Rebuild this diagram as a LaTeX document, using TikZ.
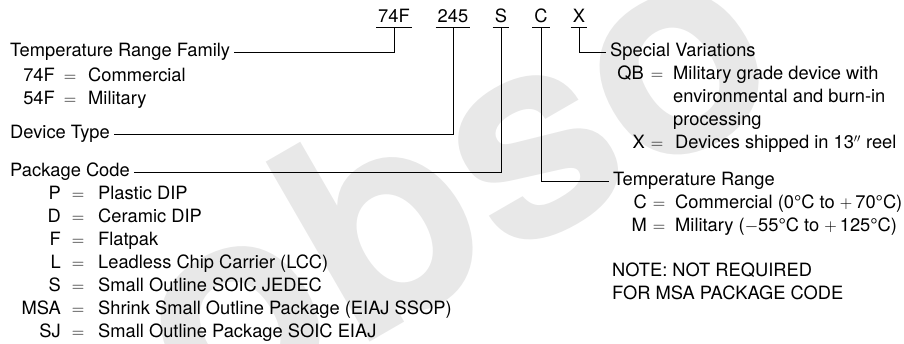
\documentclass[tikz,border=0pt]{standalone}
\usepackage{fontspec}
\setmainfont{TeX Gyre Heros}

\begin{document}
\begin{tikzpicture}[x=1pt, y=-1pt,
    every node/.style={font=\fontsize{18.3}{22}\selectfont},
    lbl/.style={anchor=west, inner xsep=4pt, inner ysep=0pt, text height=1.4ex, text depth=0pt},
    code/.style={anchor=base, inner xsep=2pt, inner ysep=4pt, text depth=0pt},
    key/.style={anchor=east, inner sep=0pt, text height=1.4ex, text depth=0pt},
    eq/.style={inner sep=0pt, text height=1.4ex, text depth=0pt},
    desc/.style={anchor=west, inner sep=0pt, text height=1.4ex, text depth=0pt},
    wire/.style={line width=1pt}]

    \useasboundingbox (0,0) rectangle (904,344);

    % watermark
    \node[rotate=30, text=black!9, font=\fontsize{285}{285}\selectfont\bfseries] (mark) at (448,178) {obso};

    % part number
    \foreach \c/\x in {74F/394, 245/453, S/501, C/541, X/579} {
        \node[code] (code-\c) at (\x,23) {\c};
        \draw[wire] (code-\c.south west) -- (code-\c.south east);
    }

    \node[lbl] (family)  at (6,53)   {Temperature Range Family};
    \node[lbl] (device)  at (6,135)  {Device Type};
    \node[lbl] (package) at (6,173)  {Package Code};
    \node[lbl] (special) at (606,53) {Special Variations};
    \node[lbl] (range)   at (609,182) {Temperature Range};

    \draw[wire] (code-74F.south) |- (family.east);
    \draw[wire] (code-245.south) |- (device.east);
    \draw[wire] (code-S.south)   |- (package.east);
    \draw[wire] (code-C.south)   |- (range.west);
    \draw[wire] (code-X.south)   |- (special.west);

    \foreach \k/\t [count=\i] in {74F/Commercial, 54F/Military} {
        \node[key]  (fam-k\i) at (55, 55+23*\i) {\k};
        \node[eq]   (fam-e\i) at (70, 55+23*\i) {$=$};
        \node[desc] (fam-d\i) at (88, 55+23*\i) {\t};
    }

    \foreach \k/\t [count=\i] in {P/Plastic DIP, D/Ceramic DIP, F/Flatpak,
        L/Leadless Chip Carrier (LCC), S/Small Outline SOIC JEDEC,
        MSA/Shrink Small Outline Package (EIAJ SSOP), SJ/Small Outline Package SOIC EIAJ} {
        \node[key]  (pkg-k\i) at (61, 173+23*\i) {\k};
        \node[eq]   (pkg-e\i) at (78, 173+23*\i) {$=$};
        \node[desc] (pkg-d\i) at (98, 173+23*\i) {\t};
    }

    \node[key]  (qb-k) at (644,76)  {QB};
    \node[eq]   (qb-e) at (657,76)  {$=$};
    \node[desc] (qb-d1) at (673,76)  {Military grade device with};
    \node[desc] (qb-d2) at (673,99)  {environmental and burn-in};
    \node[desc] (qb-d3) at (673,122) {processing};
    \node[key]  (x-k) at (645,145) {X};
    \node[eq]   (x-e) at (657,145) {$=$};
    \node[desc] (x-d) at (675,145) {Devices shipped in 13$''$\ reel};

    \foreach \k/\t [count=\i] in {C/Commercial (0°C to $+$\,70°C), M/Military ($-$55°C to $+$\,125°C)} {
        \node[key]  (tr-k\i) at (647, 182+23*\i) {\k};
        \node[eq]   (tr-e\i) at (659, 182+23*\i) {$=$};
        \node[desc] (tr-d\i) at (675, 182+23*\i) {\t};
    }

    \node[desc] (note1) at (612,273) {NOTE: NOT REQUIRED};
    \node[desc] (note2) at (612,296) {FOR MSA PACKAGE CODE};

\end{tikzpicture}
\end{document}
